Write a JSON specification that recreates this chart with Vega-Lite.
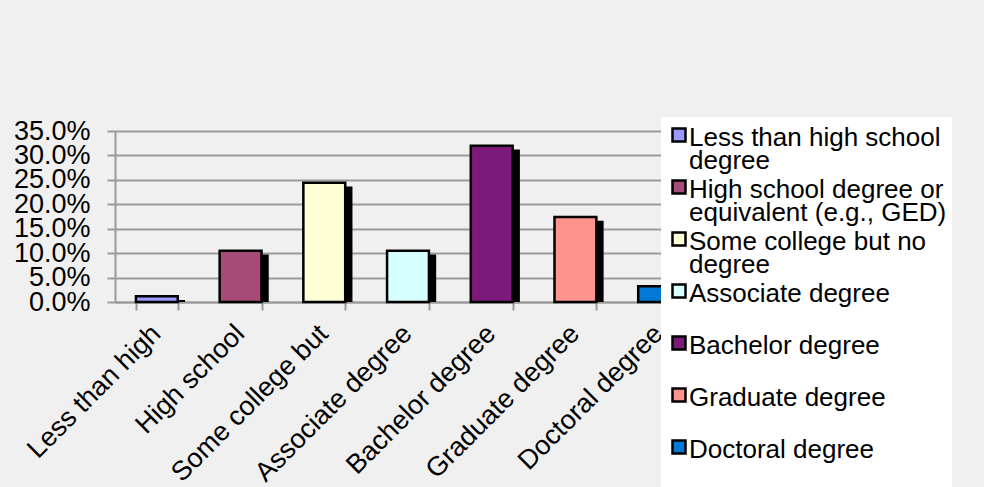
{
  "$schema": "https://vega.github.io/schema/vega-lite/v6.json",
  "autosize": "none",
  "width": 586,
  "height": 171,
  "padding": {"left": 115, "top": 131, "right": 283, "bottom": 185},
  "background": "#f0f0f0",
  "data": {
    "values": [
      {"education": "Less than high school degree", "share": 0.012},
      {"education": "High school degree or equivalent (e.g., GED)", "share": 0.105},
      {"education": "Some college but no degree", "share": 0.244},
      {"education": "Associate degree", "share": 0.105},
      {"education": "Bachelor degree", "share": 0.32},
      {"education": "Graduate degree", "share": 0.174},
      {"education": "Doctoral degree", "share": 0.032}
    ]
  },
  "encoding": {
    "x": {
      "field": "education",
      "type": "nominal",
      "sort": null,
      "scale": {"paddingInner": 0.5, "paddingOuter": 0.25},
      "axis": {
        "title": null,
        "tickBand": "extent",
        "labelAngle": -45,
        "labelAlign": "right",
        "labelBaseline": "top",
        "labelOffset": -10,
        "labelPadding": 10,
        "labelOverlap": false,
        "labelLimit": 400,
        "labelExpr": "datum.value == 'Less than high school degree' ? 'Less than high' : datum.value == 'High school degree or equivalent (e.g., GED)' ? 'High school' : datum.value == 'Some college but no degree' ? 'Some college but' : datum.value"
      }
    },
    "y": {
      "field": "share",
      "type": "quantitative",
      "scale": {"domain": [0, 0.35], "nice": false},
      "axis": {
        "title": null,
        "format": ".1%",
        "values": [0, 0.05, 0.1, 0.15, 0.2, 0.25, 0.3, 0.35],
        "grid": true,
        "labelPadding": 17,
        "labelOverlap": false
      }
    }
  },
  "layer": [
    {
      "mark": {
        "type": "bar",
        "fill": "black",
        "stroke": "black",
        "strokeWidth": 2.5,
        "xOffset": 6,
        "yOffset": 5,
        "clip": true
      }
    },
    {
      "mark": {"type": "bar", "stroke": "black", "strokeWidth": 2.5},
      "encoding": {
        "color": {
          "field": "education",
          "type": "nominal",
          "scale": {
            "domain": [
              "Less than high school degree",
              "High school degree or equivalent (e.g., GED)",
              "Some college but no degree",
              "Associate degree",
              "Bachelor degree",
              "Graduate degree",
              "Doctoral degree"
            ],
            "range": ["#9999ff", "#a64a78", "#ffffd6", "#d6ffff", "#7b1a78", "#ff948f", "#0078d4"]
          },
          "legend": {
            "title": null,
            "orient": "none",
            "legendX": 546,
            "legendY": -14,
            "fillColor": "white",
            "padding": 5,
            "symbolType": "square",
            "symbolSize": 169,
            "symbolStrokeColor": "black",
            "symbolStrokeWidth": 2.5,
            "symbolOffset": 0,
            "labelOffset": -3,
            "labelFont": "Liberation Sans",
            "labelFontSize": 26,
            "labelColor": "black",
            "labelLimit": 400,
            "labelBaseline": "alphabetic",
            "gridAlign": "all",
            "rowPadding": 0,
            "labelExpr": "datum.value == 'Less than high school degree' ? ['Less than high school', 'degree'] : datum.value == 'High school degree or equivalent (e.g., GED)' ? ['High school degree or', 'equivalent (e.g., GED)'] : datum.value == 'Some college but no degree' ? ['Some college but no', 'degree'] : [datum.label, '']",
            "encoding": {
              "labels": {"dy": {"value": 11}, "lineHeight": {"value": 23}}
            }
          }
        }
      }
    }
  ],
  "config": {
    "view": {"stroke": null},
    "font": "Liberation Sans",
    "axis": {
      "labelFont": "Liberation Sans",
      "labelFontSize": 27,
      "labelColor": "black",
      "domainColor": "#9b9b9b",
      "domainWidth": 2,
      "tickColor": "#9b9b9b",
      "tickWidth": 2,
      "tickSize": 8,
      "gridColor": "#9b9b9b",
      "gridWidth": 2,
      "gridOpacity": 1
    }
  }
}
